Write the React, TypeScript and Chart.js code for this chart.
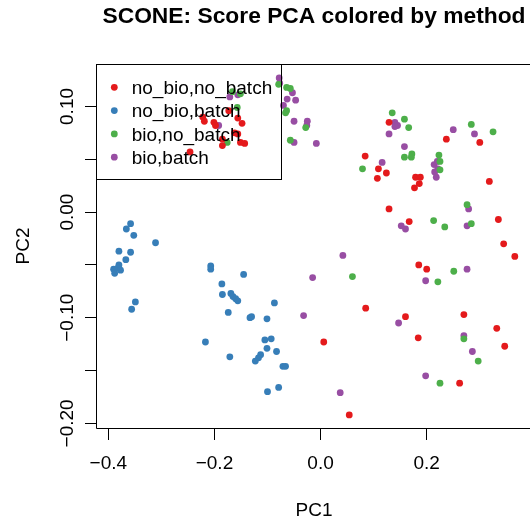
import React, { useEffect, useRef } from "react";
import { Chart, registerables } from "chart.js";

Chart.register(...registerables);

const title = "SCONE: Score PCA colored by method";
const xLabel = "PC1";
const yLabel = "PC2";

const methods = ["no_bio,no_batch", "no_bio,batch", "bio,no_batch", "bio,batch"];
const colors = ["#E41A1C", "#377EB8", "#4DAF4A", "#984EA3"];

// no_bio,no_batch (red)
const noBioNoBatchX = [-0.173, -0.222, -0.219, -0.201, -0.198, -0.156, -0.148, -0.162, -0.156, -0.185, -0.185, -0.151, -0.143, -0.246, 0.129, 0.237, 0.300, 0.084, 0.109, 0.124, 0.107, 0.179, 0.188, 0.186, 0.177, 0.318, 0.129, 0.167, 0.335, 0.345, 0.366, 0.185, 0.200, 0.085, 0.160, 0.270, 0.332, 0.184, 0.347, 0.006, 0.262, 0.054];
const noBioNoBatchY = [0.096, 0.090, 0.086, 0.085, 0.082, 0.089, 0.084, 0.075, 0.074, 0.069, 0.063, 0.066, 0.065, 0.057, 0.085, 0.069, 0.066, 0.053, 0.041, 0.037, 0.032, 0.033, 0.033, 0.027, 0.023, 0.029, 0.003, -0.009, -0.007, -0.030, -0.042, -0.050, -0.054, -0.091, -0.099, -0.097, -0.110, -0.119, -0.127, -0.123, -0.162, -0.192];

// no_bio,batch (blue)
const noBioBatchX = [-0.358, -0.366, -0.352, -0.311, -0.380, -0.358, -0.367, -0.380, -0.390, -0.388, -0.382, -0.377, -0.349, -0.356, -0.207, -0.207, -0.145, -0.186, -0.185, -0.169, -0.165, -0.160, -0.156, -0.087, -0.174, -0.133, -0.130, -0.101, -0.217, -0.105, -0.093, -0.101, -0.083, -0.171, -0.113, -0.117, -0.123, -0.071, -0.066, -0.100, -0.079];
const noBioBatchY = [-0.011, -0.016, -0.022, -0.029, -0.037, -0.038, -0.045, -0.050, -0.054, -0.058, -0.053, -0.055, -0.085, -0.092, -0.051, -0.054, -0.059, -0.068, -0.078, -0.077, -0.080, -0.082, -0.084, -0.086, -0.095, -0.100, -0.099, -0.101, -0.123, -0.121, -0.120, -0.129, -0.132, -0.137, -0.135, -0.138, -0.141, -0.146, -0.146, -0.170, -0.166];

// bio,no_batch (green)
const bioNoBatchX = [-0.166, -0.151, -0.157, -0.176, -0.079, -0.064, -0.057, -0.064, -0.066, -0.028, -0.057, 0.135, 0.158, 0.166, 0.284, 0.325, 0.079, 0.158, 0.172, 0.171, 0.223, 0.225, 0.225, 0.276, 0.213, 0.234, 0.284, 0.251, 0.060, 0.221, 0.270, 0.297, 0.225];
const bioNoBatchY = [0.114, 0.112, 0.099, 0.066, 0.121, 0.118, 0.117, 0.096, 0.094, 0.080, 0.068, 0.094, 0.088, 0.080, 0.083, 0.076, 0.041, 0.052, 0.055, 0.052, 0.054, 0.048, 0.040, 0.007, -0.008, -0.014, -0.011, -0.056, -0.061, -0.066, -0.120, -0.141, -0.162];

// bio,batch (purple)
const bioBatchX = [-0.171, -0.156, -0.192, -0.078, -0.077, -0.053, -0.063, -0.047, -0.070, -0.050, -0.025, -0.026, -0.050, -0.008, 0.140, 0.145, 0.140, 0.129, 0.158, 0.250, 0.290, 0.116, 0.214, 0.220, 0.221, 0.215, 0.218, 0.279, 0.152, 0.160, 0.276, 0.042, 0.276, -0.015, 0.198, -0.032, 0.147, 0.270, 0.286, 0.198, 0.037];
const bioBatchY = [0.109, 0.111, 0.082, 0.127, 0.122, 0.113, 0.107, 0.106, 0.101, 0.086, 0.086, 0.082, 0.066, 0.065, 0.085, 0.082, 0.081, 0.074, 0.062, 0.078, 0.074, 0.047, 0.045, 0.048, 0.041, 0.038, 0.033, 0.003, -0.013, -0.016, -0.013, -0.041, -0.054, -0.062, -0.065, -0.098, -0.105, -0.117, -0.132, -0.155, -0.171];

const xTickValues = [-0.4, -0.2, 0, 0.2];
const xTickLabels = ["\u22120.4", "\u22120.2", "0.0", "0.2"];
const yTickValues = [-0.2, -0.15, -0.1, -0.05, 0, 0.05, 0.1];
const yTickLabels = ["\u22120.20", "", "\u22120.10", "", "0.00", "", "0.10"];

const X_MIN = -0.4213;
const X_MAX = 0.3965;
const Y_MIN = -0.2044;
const Y_MAX = 0.1402;

const FONT = "'Liberation Sans', Arial, Helvetica, sans-serif";

const seriesX = [noBioNoBatchX, noBioBatchX, bioNoBatchX, bioBatchX];
const seriesY = [noBioNoBatchY, noBioBatchY, bioNoBatchY, bioBatchY];

const rPlotPlugin = {
  id: "rPlot",
  afterDatasetsDraw(chart: any) {
    const ctx = chart.ctx as CanvasRenderingContext2D;
    const { left, top, right, bottom } = chart.chartArea;
    const xs = chart.scales.x;
    const ys = chart.scales.y;
    ctx.save();
    ctx.strokeStyle = "#000";
    ctx.lineWidth = 1;
    // plot box
    ctx.beginPath();
    ctx.moveTo(left - 0.5, top + 0.5);
    ctx.lineTo(right + 0.5, top + 0.5);
    ctx.lineTo(right + 0.5, bottom + 0.5);
    ctx.lineTo(left - 0.5, bottom + 0.5);
    ctx.closePath();
    ctx.stroke();

    ctx.fillStyle = "#000";
    // x tick labels
    ctx.font = `19px ${FONT}`;
    ctx.textAlign = "center";
    ctx.textBaseline = "alphabetic";
    xs.ticks.forEach((t: any, i: number) => {
      const lbl = xTickLabels[xTickValues.indexOf(t.value)];
      if (lbl) ctx.fillText(lbl, xs.getPixelForValue(t.value), bottom + 41);
    });
    // y tick labels (rotated)
    ys.ticks.forEach((t: any) => {
      const idx = yTickValues.findIndex((v) => Math.abs(v - t.value) < 1e-9);
      const lbl = idx >= 0 ? yTickLabels[idx] : "";
      if (!lbl) return;
      ctx.save();
      ctx.translate(left - 24, ys.getPixelForValue(t.value));
      ctx.rotate(-Math.PI / 2);
      ctx.fillText(lbl, 0, 0);
      ctx.restore();
    });
    // axis titles
    const cx = (left + right) / 2;
    ctx.fillText(xLabel, cx, bottom + 87.5);
    ctx.save();
    ctx.translate(left - 68, (top + bottom) / 2);
    ctx.rotate(-Math.PI / 2);
    ctx.fillText(yLabel, 0, 0);
    ctx.restore();
    // main title
    ctx.font = `bold 22.8px ${FONT}`;
    ctx.fillText(title, cx, 23);

    // legend (transparent background, like R)
    const lw = 185;
    const lh = 115;
    ctx.strokeRect(left - 0.5, top + 0.5, lw, lh);
    ctx.font = `19px ${FONT}`;
    ctx.textAlign = "left";
    chart.data.datasets.forEach((ds: any, i: number) => {
      const yy = top + 23.3 + i * 23.3;
      ctx.beginPath();
      ctx.fillStyle = ds.backgroundColor;
      ctx.arc(left + 17.3, yy, 3.4, 0, Math.PI * 2);
      ctx.fill();
      ctx.fillStyle = "#000";
      ctx.fillText(ds.label, left + 34.7, yy + 6.8);
    });
    ctx.restore();
  },
};

export default function App() {
  const canvasRef = useRef<HTMLCanvasElement | null>(null);

  useEffect(() => {
    document.body.style.margin = "0";
    const canvas = canvasRef.current;
    if (!canvas) return;
    const datasets = methods.map((m, i) => ({
      label: m,
      data: seriesX[i].map((x, j) => ({ x, y: seriesY[i][j] })),
      backgroundColor: colors[i],
      borderColor: colors[i],
      pointRadius: 3.4,
      pointBorderWidth: 0,
      pointHoverRadius: 3.4,
    }));
    const chart = new Chart(canvas, {
      type: "scatter",
      data: { datasets },
      options: {
        animation: false,
        responsive: false,
        events: [],
        devicePixelRatio: 1,
        layout: { padding: { top: 64, right: 14, left: 0, bottom: 0 }, autoPadding: false } as any,
        plugins: { legend: { display: false }, tooltip: { enabled: false }, title: { display: false } },
        scales: {
          x: {
            type: "linear",
            position: "bottom",
            min: X_MIN,
            max: X_MAX,
            afterBuildTicks: (scale: any) => {
              scale.ticks = xTickValues.map((v) => ({ value: v }));
            },
            afterFit: (scale: any) => {
              scale.height = 89;
            },
            grid: { display: true, drawOnChartArea: false, drawTicks: true, tickLength: 12, color: "#000", lineWidth: 1 },
            border: { display: false },
            ticks: { display: false },
          },
          y: {
            type: "linear",
            position: "left",
            min: Y_MIN,
            max: Y_MAX,
            afterBuildTicks: (scale: any) => {
              scale.ticks = yTickValues.map((v) => ({ value: v }));
            },
            afterFit: (scale: any) => {
              scale.width = 97;
            },
            grid: { display: true, drawOnChartArea: false, drawTicks: true, tickLength: 12, color: "#000", lineWidth: 1 },
            border: { display: false },
            ticks: { display: false },
          },
        },
      },
      plugins: [rPlotPlugin],
    });
    return () => chart.destroy();
  }, []);

  return (
    <div style={{ width: 530, height: 517, overflow: "hidden", position: "relative", background: "#fff" }}>
      <canvas ref={canvasRef} width={545} height={517} style={{ display: "block", width: 545, height: 517 }} />
    </div>
  );
}
